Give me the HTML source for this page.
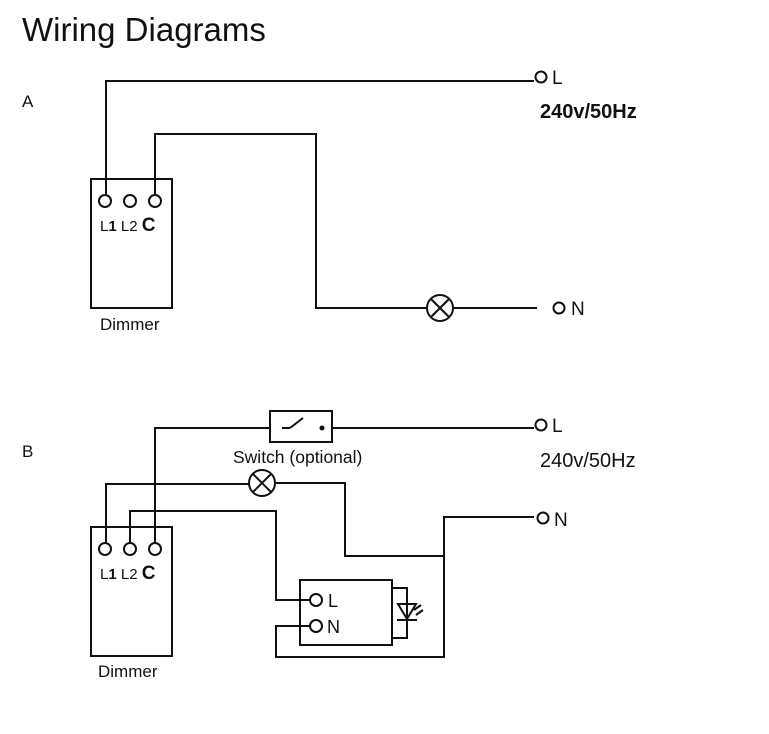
<!DOCTYPE html>
<html><head><meta charset="utf-8"><style>
html,body{margin:0;padding:0;background:#fff;}
svg{display:block;}
text{font-family:"Liberation Sans",Arial,sans-serif;fill:#111;}
</style></head><body>
<svg width="769" height="734" viewBox="0 0 769 734" xmlns="http://www.w3.org/2000/svg">
<g fill="none" stroke="#111" stroke-width="2">
<rect x="91" y="179" width="81" height="129"/>
<circle cx="105" cy="201" r="6"/>
<circle cx="130" cy="201" r="6"/>
<circle cx="155" cy="201" r="6"/>
<polyline points="106,195 106,81 534,81"/>
<polyline points="155,195 155,134 316,134 316,308 427,308"/>
<line x1="453" y1="308" x2="537" y2="308"/>
<circle cx="440" cy="308" r="13"/>
<line x1="431" y1="299" x2="449" y2="317"/>
<line x1="449" y1="299" x2="431" y2="317"/>
<circle cx="541" cy="77" r="5.5"/>
<circle cx="559" cy="308" r="5.5"/>
<rect x="91" y="527" width="81" height="129"/>
<circle cx="105" cy="549" r="6"/>
<circle cx="130" cy="549" r="6"/>
<circle cx="155" cy="549" r="6"/>
<rect x="270" y="411" width="62" height="31"/>
<polyline points="155,543 155,428 270,428"/>
<line x1="282" y1="428" x2="290" y2="428"/>
<line x1="290" y1="428" x2="303" y2="418"/>
<line x1="332" y1="428" x2="534" y2="428"/>
<polyline points="106,543 106,484 249,484"/>
<circle cx="262" cy="483" r="13"/>
<line x1="253" y1="474" x2="271" y2="492"/>
<line x1="271" y1="474" x2="253" y2="492"/>
<polyline points="275,483 345,483 345,556 444,556"/>
<polyline points="130,543 130,511 276,511 276,600 309,600"/>
<rect x="300" y="580" width="92" height="65"/>
<circle cx="316" cy="600" r="6"/>
<circle cx="316" cy="626" r="6"/>
<polyline points="310,626 276,626 276,657 444,657 444,517 534,517"/>
<polyline points="392,588 407,588 407,638 392,638"/>
<polygon points="398,604 416,604 407,619"/>
<line x1="397" y1="620" x2="417" y2="620"/>
<line x1="414" y1="610" x2="421" y2="605"/>
<line x1="416" y1="615" x2="423" y2="610"/>
</g>
<g fill="none" stroke="#111" stroke-width="2">
<circle cx="541" cy="425" r="5.5"/>
<circle cx="543" cy="518" r="5.5"/>
</g>
<circle cx="322" cy="428" r="2.5" fill="#111"/>
<text x="22" y="41" font-size="33" fill="#222">Wiring Diagrams</text>
<text x="22" y="107" font-size="17">A</text>
<text x="22" y="457" font-size="17">B</text>
<text x="100" y="231" font-size="15">L<tspan font-weight="bold">1</tspan> L2 <tspan font-weight="bold" font-size="19">C</tspan></text>
<text x="100" y="579" font-size="15">L<tspan font-weight="bold">1</tspan> L2 <tspan font-weight="bold" font-size="19">C</tspan></text>
<text x="100" y="330" font-size="17">Dimmer</text>
<text x="98" y="677" font-size="17">Dimmer</text>
<text x="552" y="84" font-size="19">L</text>
<text x="540" y="118" font-size="20" font-weight="bold">240v/50Hz</text>
<text x="571" y="315" font-size="19">N</text>
<text x="552" y="432" font-size="19">L</text>
<text x="540" y="467" font-size="20">240v/50Hz</text>
<text x="554" y="526" font-size="19">N</text>
<text x="233" y="463" font-size="17.5">Switch (optional)</text>
<text x="328" y="607" font-size="18">L</text>
<text x="327" y="633" font-size="18">N</text>
</svg>
</body></html>
